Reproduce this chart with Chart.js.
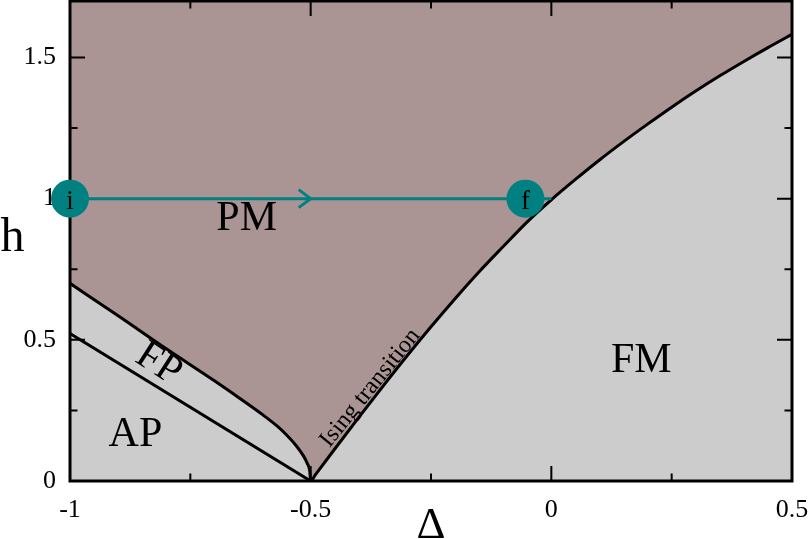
<!DOCTYPE html>
<html><head><meta charset="utf-8">
<script src="https://cdn.jsdelivr.net/npm/chart.js@4"></script>
<style>html,body{margin:0;padding:0;background:#fff}canvas{display:block}</style>
</head><body>
<canvas id="c" width="810" height="539"></canvas>
<script>
// ---- data ----
const fpUpperX = [-1, -0.9, -0.8, -0.7, -0.65, -0.6, -0.57, -0.55, -0.53, -0.515, -0.507, -0.502, -0.5];
const fpUpperH = [0.70, 0.585, 0.468, 0.355, 0.296, 0.235, 0.195, 0.163, 0.125, 0.089, 0.062, 0.036, 0];
const isingX = [-0.5,-0.49,-0.45,-0.4,-0.35,-0.3,-0.25,-0.2,-0.15,-0.1,-0.05,0,0.05,0.1,0.15,0.2,0.25,0.3,0.35,0.4,0.45,0.5];
const isingH = [0,0.0228,0.1133,0.2252,0.3353,0.4426,0.5461,0.6457,0.7411,0.8304,0.918,0.996,1.068,1.137,1.202,1.264,1.324,1.381,1.435,1.486,1.535,1.582];
const apFpX = [-1, -0.5];
const apFpH = [0.522, 0];
const pathX = [-1, 0];
const pathH = [1, 1];
const markerX = [-1, -0.0538];
const markerH = [1, 1];
const markerText = ['i', 'f'];
const arrowX = [-0.5];
const arrowH = [1];
const regionText = ['PM', 'FM', 'AP', 'FP', 'Ising transition'];
const regionX = [-0.633, 0.187, -0.864, -0.813, -0.379];
const regionH = [0.937, 0.436, 0.174, 0.422, 0.333];
const xTickValues = [-1, -0.75, -0.5, -0.25, 0, 0.25, 0.5];
const xTickLabels = ['-1', '', '-0.5', '', '0', '', '0.5'];
const yTickValues = [0, 0.25, 0.5, 0.75, 1, 1.25, 1.5];
const yTickLabels = ['0', '', '0.5', '', '1', '', '1.5'];
const xTitle = 'Δ';
const yTitle = 'h';

// ---- styles ----
const SERIF = '"Liberation Serif", "Times New Roman", serif';
const PM_COLOR = '#aa9494';
const BG_GRAY = '#cccccc';
const TEAL = '#008080';
const regionStyle = [
  {size: 42, rot: 0}, {size: 42, rot: 0}, {size: 42, rot: 0},
  {size: 41, rot: 33}, {size: 24, rot: -51}
];

const pts = (xs, ys) => xs.map((x, i) => ({x, y: ys[i]}));
const pmX = fpUpperX.concat(isingX.slice(1));
const pmH = fpUpperH.concat(isingH.slice(1));

const deco = {
  id: 'deco',
  beforeDatasetsDraw(chart) {
    const {ctx, chartArea: a} = chart;
    ctx.save();
    ctx.fillStyle = BG_GRAY;
    ctx.fillRect(a.left, a.top, a.right - a.left, a.bottom - a.top);
    ctx.restore();
  },
  afterDatasetDraw(chart, args) {
    if (args.index !== 2) return;
    const {ctx, chartArea: a, scales: {x, y}} = chart;
    ctx.save();
    ctx.strokeStyle = '#000';
    ctx.lineWidth = 2;
    ctx.beginPath();
    xTickValues.forEach((v, i) => {
      const p = x.getPixelForValue(v);
      const L = xTickLabels[i] ? 15 : 7.5;
      ctx.moveTo(p, a.bottom); ctx.lineTo(p, a.bottom - L);
      ctx.moveTo(p, a.top); ctx.lineTo(p, a.top + L);
    });
    yTickValues.forEach((v, i) => {
      const p = y.getPixelForValue(v);
      const L = yTickLabels[i] ? 15 : 7.5;
      ctx.moveTo(a.left, p); ctx.lineTo(a.left + L, p);
      ctx.moveTo(a.right, p); ctx.lineTo(a.right - L, p);
    });
    ctx.stroke();
    ctx.lineWidth = 3;
    ctx.strokeRect(a.left, a.top, a.right - a.left, a.bottom - a.top);
    ctx.restore();
  },
  afterDatasetsDraw(chart) {
    const {ctx, chartArea: a, scales: {x, y}} = chart;
    ctx.save();
    ctx.strokeStyle = TEAL; ctx.lineWidth = 3; ctx.lineJoin = 'miter';
    arrowX.forEach((v, i) => {
      const px = x.getPixelForValue(v), py = y.getPixelForValue(arrowH[i]);
      ctx.beginPath();
      ctx.moveTo(px - 12, py - 9); ctx.lineTo(px, py); ctx.lineTo(px - 12, py + 9);
      ctx.stroke();
    });
    ctx.fillStyle = '#000';
    ctx.textAlign = 'center'; ctx.textBaseline = 'alphabetic';
    ctx.font = '27px ' + SERIF;
    markerX.forEach((v, i) => {
      ctx.fillText(markerText[i], x.getPixelForValue(v), y.getPixelForValue(markerH[i]) + 10);
    });
    regionText.forEach((t, i) => {
      const s = regionStyle[i];
      ctx.save();
      ctx.translate(x.getPixelForValue(regionX[i]), y.getPixelForValue(regionH[i]));
      ctx.rotate(s.rot * Math.PI / 180);
      ctx.font = s.size + 'px ' + SERIF;
      ctx.textAlign = 'center';
      ctx.textBaseline = 'alphabetic';
      ctx.fillText(t, 0, s.size * 0.33);
      ctx.restore();
    });
    ctx.restore();
  },
  afterDraw(chart) {
    const {ctx, chartArea: a} = chart;
    ctx.save();
    ctx.fillStyle = '#000';
    ctx.textAlign = 'center'; ctx.textBaseline = 'alphabetic';
    ctx.font = '45px ' + SERIF;
    ctx.fillText(xTitle, (a.left + a.right) / 2, 538);
    ctx.font = '48px ' + SERIF;
    ctx.fillText(yTitle, 12.5, 251);
    ctx.restore();
  }
};

new Chart(document.getElementById('c'), {
  type: 'line',
  data: {
    datasets: [
      { // 0: markers
        data: pts(markerX, markerH), showLine: false, pointRadius: 19,
        pointBackgroundColor: TEAL, pointBorderWidth: 0, clip: false
      },
      { // 1: path
        data: pts(pathX, pathH), borderColor: TEAL, borderWidth: 3, pointRadius: 0, fill: false
      },
      { // 2: AP/FP boundary
        data: pts(apFpX, apFpH), borderColor: '#000', borderWidth: 3, pointRadius: 0, fill: false
      },
      { // 3: PM boundary (FP upper + Ising)
        data: pts(pmX, pmH), borderColor: '#000', borderWidth: 3, pointRadius: 0,
        fill: 'end', backgroundColor: PM_COLOR, borderJoinStyle: 'round',
        cubicInterpolationMode: 'monotone'
      }
    ]
  },
  options: {
    responsive: false, animation: false, devicePixelRatio: 1, events: [],
    layout: {autoPadding: false, padding: {top: 1, right: 0, left: 0, bottom: 0}},
    plugins: {legend: {display: false}, tooltip: {enabled: false}},
    scales: {
      x: {
        type: 'linear', min: -1, max: 0.5,
        grid: {display: false, drawTicks: false}, border: {display: false},
        afterBuildTicks: s => { s.ticks = xTickValues.map(v => ({value: v})); },
        ticks: {
          autoSkip: false, maxRotation: 0, padding: 14, color: '#000',
          font: {family: SERIF, size: 26},
          callback: (v, i) => xTickLabels[i]
        },
        afterFit: s => { s.height = 58; s.paddingLeft = 0; s.paddingRight = 18; }
      },
      y: {
        type: 'linear', min: 0, max: 1.7,
        grid: {display: false, drawTicks: false}, border: {display: false},
        afterBuildTicks: s => { s.ticks = yTickValues.map(v => ({value: v})); },
        ticks: {
          autoSkip: false, padding: 14, color: '#000',
          font: {family: SERIF, size: 26},
          callback: (v, i) => yTickLabels[i]
        },
        afterFit: s => { s.width = 70; s.paddingTop = 0; s.paddingBottom = 0; }
      }
    }
  },
  plugins: [deco]
});
</script>
</body></html>
